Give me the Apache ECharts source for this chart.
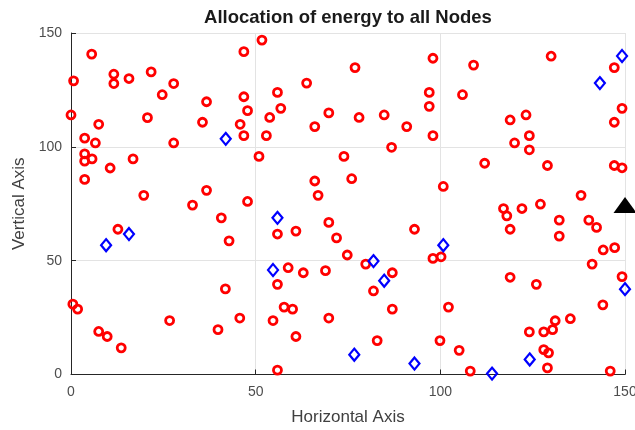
<!DOCTYPE html>
<html>
<head>
<meta charset="utf-8">
<script src="https://cdn.jsdelivr.net/npm/echarts@6/dist/echarts.min.js"></script>
<style>
html,body{margin:0;padding:0;background:#fff;overflow:hidden;}
#chart{width:635px;height:430px;}
</style>
</head>
<body>
<div id="chart"></div>
<script>
// ---- data ----
const chartTitle = 'Allocation of energy to all Nodes';
const xAxisName = 'Horizontal Axis';
const yAxisName = 'Vertical Axis';
const tickValues = [0, 50, 100, 150];

// ordinary nodes (red circles)
const normalNodes = [
  [5.6,140.7],[0.7,129],[11.6,131.9],[11.6,127.8],[15.7,130],[21.7,132.9],[27.8,127.8],[24.7,122.9],
  [46.8,141.8],[51.7,146.9],[36.7,119.8],[46.8,122],[47.8,115.9],[0,114],[7.5,109.9],[20.7,112.8],
  [35.6,110.8],[45.8,109.9],[46.8,104.9],[3.7,103.8],[6.6,101.7],[27.8,101.7],[3.7,96.9],[3.7,93.7],
  [5.7,94.7],[10.6,90.7],[16.8,94.7],[3.7,85.7],[19.7,78.7],[36.7,80.9],[32.9,74.4],[47.8,76],
  [76.9,134.8],[98,138.9],[63.8,128],[55.9,123.9],[56.8,116.9],[53.8,112.9],[52.9,104.9],[66,108.9],
  [69.8,114.9],[78,112.9],[84.8,114],[90.9,108.9],[97,123.9],[97,117.8],[98,104.9],[86.8,99.8],
  [50.9,95.8],[73.9,95.8],[66,85],[76,86],[66.9,78.7],[100.8,82.6],
  [109,135.9],[130,139.8],[147.1,134.8],[106,122.9],[149.2,116.9],[147.1,110.8],[118.9,111.8],[123.2,114],
  [124.1,104.9],[120.1,101.7],[124.1,98.7],[112,92.8],[129,91.8],[147.1,91.8],[149.2,90.8],[138.1,78.7],
  [40.7,68.8],[42.8,58.7],[12.7,63.8],[41.8,37.6],[0.5,30.9],[1.8,28.7],[26.7,23.7],[45.7,24.8],
  [39.8,19.7],[7.5,18.9],[9.8,16.7],[13.6,11.7],
  [55.9,61.7],[60.9,63],[69.8,66.8],[71.9,60],[74.8,52.5],[93,63.8],[98,51],[100.2,51.7],
  [79.8,48.5],[87,44.7],[81.9,36.7],[58.8,46.9],[62.9,44.7],[68.9,45.6],[55.9,39.6],[57.7,29.6],
  [60,28.7],[87,28.7],[54.7,23.7],[69.8,24.8],[60.9,16.7],[82.9,14.9],[99.9,14.9],[55.9,1.9],
  [117.1,72.9],[118,69.7],[122.1,72.9],[127.1,74.8],[118.9,63.8],[132.2,67.8],[132.2,60.8],[140.2,67.8],
  [142.3,64.6],[144.1,54.7],[147.2,55.7],[141.1,48.5],[149.2,43],[118.9,42.7],[126,39.6],[144,30.6],
  [102.2,29.6],[135.2,24.5],[131.1,23.6],[130.4,19.7],[128,18.7],[124.1,18.7],[105.1,10.6],[128,10.9],
  [129.3,9.5],[129,2.9],[108.1,1.5],[146,1.5]
];

// highlighted nodes (blue diamonds)
const specialNodes = [
  [41.9,103.5],[9.5,56.8],[15.7,61.7],[55.9,68.8],[54.7,45.9],[81.9,49.8],[84.8,41.2],[76.7,8.7],
  [93,4.8],[100.8,56.8],[114,0.4],[124.2,6.6],[143.2,128],[149.2,139.9],[150,37.5]
];

// sink / base station (black triangle)
const sinkNode = [[150,74.5]];

// ---- chart ----
const chart = echarts.init(document.getElementById('chart'), null, {renderer:'canvas'});
const fontFamily = 'Liberation Sans, Arial, Helvetica, sans-serif';

function axisCommon(name, isX) {
  return {
    type: 'value',
    min: tickValues[0],
    max: tickValues[tickValues.length - 1],
    interval: tickValues[1] - tickValues[0],
    name: name,
    nameLocation: 'middle',
    nameGap: isX ? 34 : 39,
    nameTextStyle: {color: '#404040', fontSize: 17, fontFamily: fontFamily},
    axisLine: {show: true, onZero: false, lineStyle: {color: '#262626', width: 1}},
    axisTick: {show: true, inside: true, length: 5, lineStyle: {color: '#262626'}},
    axisLabel: {color: '#4d4d4d', fontSize: 14, fontFamily: fontFamily, margin: isX ? 11 : 9},
    splitLine: {show: true, lineStyle: {color: '#e3e3e3', width: 1}}
  };
}

chart.setOption({
  animation: false,
  backgroundColor: '#ffffff',
  grid: {left: 71, right: 10, top: 33, bottom: 55.5, containLabel: false, outerBoundsMode: 'none'},
  graphic: [{
    type: 'text',
    x: 348,
    y: 18,
    style: {
      text: chartTitle,
      align: 'center',
      verticalAlign: 'middle',
      fill: '#1a1a1a',
      font: 'bold 18.5px ' + fontFamily
    }
  }],
  xAxis: axisCommon(xAxisName, true),
  yAxis: axisCommon(yAxisName, false),
  series: [
    {
      type: 'scatter',
      data: normalNodes,
      symbol: 'circle',
      symbolSize: 8,
      clip: false,
      itemStyle: {color: 'rgba(0,0,0,0)', borderColor: '#ff0000', borderWidth: 2.8, opacity: 1}
    },
    {
      type: 'scatter',
      data: specialNodes,
      symbol: 'diamond',
      symbolSize: [10, 12],
      clip: false,
      itemStyle: {color: 'rgba(0,0,0,0)', borderColor: '#0000ff', borderWidth: 2.2, opacity: 1}
    },
    {
      type: 'scatter',
      data: sinkNode,
      symbol: 'triangle',
      symbolSize: [23, 16],
      clip: false,
      itemStyle: {color: '#000000', opacity: 1}
    }
  ]
});
</script>
</body>
</html>
